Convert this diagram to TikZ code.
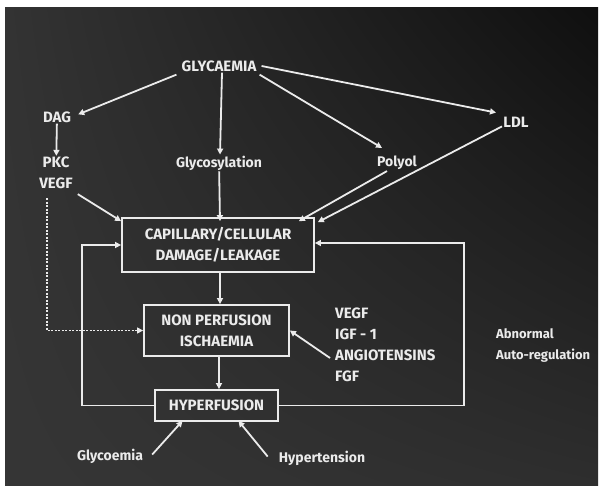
\documentclass[tikz,border=0pt]{standalone}
\usepackage{fontspec}
\setmainfont{Fira Sans}
\usetikzlibrary{arrows.meta, shadings}
\colorlet{slidefg}{white!92!black}

\begin{document}
\begin{tikzpicture}[x=1pt, y=-1pt, >={Triangle[length=6pt, width=6pt]},
    txt/.style={text=slidefg, font=\fontsize{15}{21}\selectfont\bfseries, inner sep=1pt},
    small/.style={txt, font=\fontsize{14}{21}\selectfont\bfseries},
    box/.style={draw=slidefg, line width=1.8pt, align=center, txt},
    arr/.style={->, draw=slidefg, line width=1.8pt},
    dots/.style={->, draw=slidefg, line width=1.4pt, dash pattern=on 2pt off 1.5pt}]
    % Slide background
    \useasboundingbox (0,0) rectangle (600,486);
    \fill[white] (0,0) rectangle (600,486);
    \shade[upper left=black!80, upper right=black!94, lower left=black!79, lower right=black!82]
        (5,8) rectangle (598,486);

    % Sources
    \node[txt] (glyc) at (219,66) {GLYCAEMIA};
    \node[txt] (dag) at (57,117) {DAG};
    \node[txt, align=center] (pkc) at (56,173) {PKC\\VEGF};
    \node[small] (glycos) at (219,163) {Glycosylation};
    \node[small] (polyol) at (397,163) {Polyol};
    \node[txt] (ldl) at (516,122) {LDL};

    % Boxes
    \node[box, minimum width=192pt, minimum height=54pt] (damage) at (218,245) {CAPILLARY/CELLULAR\\DAMAGE/LEAKAGE};
    \node[box, minimum width=145pt, minimum height=51pt] (nonperf) at (216.5,330.5) {NON PERFUSION\\ISCHAEMIA};
    \node[box, minimum width=123pt, minimum height=31pt] (hyper) at (216.5,405.5) {HYPERFUSION};

    % Side labels
    \node[txt, align=left, anchor=west] (factors) at (334,345) {VEGF\\IGF - 1\\ANGIOTENSINS\\FGF};
    \node[small, font=\fontsize{13}{21}\selectfont\bfseries, align=left, anchor=west] (abnorm) at (495,346) {Abnormal\\Auto-regulation};
    \node[small] (glycoem) at (110,456) {Glycoemia};
    \node[small] (hypert) at (322,458) {Hypertension};

    % Arrows from glycaemia
    \draw[arr] (glyc.south west) ++(-4,2) -- ([xshift=6pt, yshift=-4pt]dag.north east);
    \draw[arr] (glyc.south) ++(3,0) -- ([xshift=1pt]glycos.north);
    \draw[arr] (glyc.south east) ++(2,2) -- ([xshift=-15pt, yshift=7pt]polyol.north);
    \draw[arr] (glyc.east) ++(4,0) -- ([xshift=-20pt, yshift=3pt]ldl.north);
    \draw[arr] (dag) -- (pkc);

    % Arrows into damage box
    \draw[arr] ([xshift=4pt, yshift=-4pt]pkc.south east) -- ([yshift=-4pt]damage.north west);
    \draw[arr] (glycos) -- ([xshift=2pt, yshift=-4pt]damage.north);
    \draw[arr] ([xshift=-10pt]polyol.south) -- ([xshift=-16pt, yshift=-4pt]damage.north east);
    \draw[arr] ([xshift=-14pt, yshift=2pt]ldl.south) -- ([xshift=3pt, yshift=-5pt]damage.north east);

    % Main chain
    \draw[arr] ([xshift=2pt]damage.south) -- ([xshift=3.5pt]nonperf.north);
    \draw[arr] ([xshift=2.5pt]nonperf.south) -- ([xshift=2.5pt]hyper.north);
    \draw[arr] ([xshift=-4pt, yshift=-13pt]factors.west) -- (nonperf.east);
    \draw[dots] ([xshift=-9pt, yshift=-8pt]pkc.south) |- (nonperf.west);

    % Feedback loops
    \draw[arr] (hyper.west) -- (82,405.5) |- (damage.west);
    \draw[arr] (hyper.east) -- (464,405.5) |- ([yshift=2pt]damage.east);

    % Hyperfusion causes
    \draw[arr] ([xshift=8pt, yshift=-7pt]glycoem.north east) -- ([xshift=-34pt, yshift=1pt]hyper.south);
    \draw[arr] ([xshift=-10pt, yshift=-7pt]hypert.north west) -- ([xshift=22pt, yshift=1pt]hyper.south);
\end{tikzpicture}
\end{document}
